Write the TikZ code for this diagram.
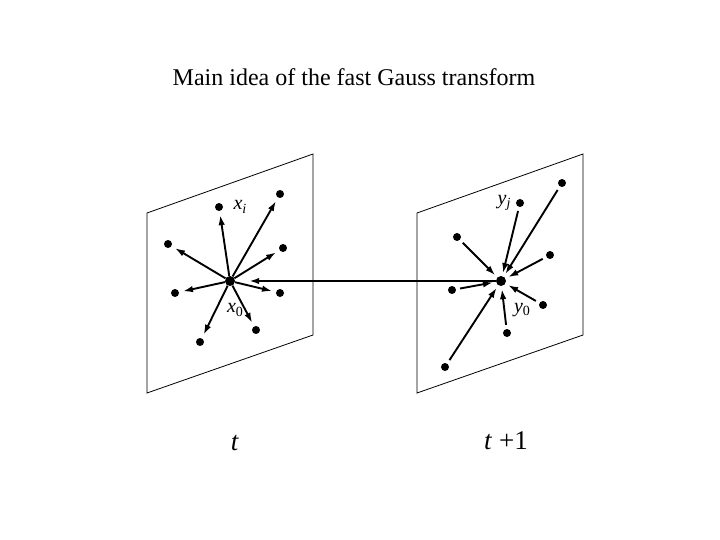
\documentclass[tikz,border=0pt]{standalone}
\usepackage{fontspec}
\setmainfont{Liberation Serif}
\usetikzlibrary{arrows.meta}
\newcommand{\vsub}[1]{\raisebox{-0.35ex}{\fontsize{14}{16}\selectfont #1}}
\begin{document}
\begin{tikzpicture}[x=1pt,y=-1pt,
  dot/.style={circle,fill=black,inner sep=0pt,minimum size=8pt},
  bigdot/.style={circle,fill=black,inner sep=0pt,minimum size=10pt},
  plane/.style={draw=black,line width=0.8pt},
  arr/.style={line width=1.9pt,-{Latex[length=10pt,width=6.5pt]}},
  lbl/.style={inner sep=0pt,font=\fontsize{20}{22}\selectfont\itshape}]
\useasboundingbox (0,0) rectangle (720,540);
\node[font=\fontsize{24}{28}\selectfont] (title) at (354,77) {Main idea of the fast Gauss transform};
% planes
\draw[plane] (147,213) -- (313,154) -- (313,335) -- (147,393) -- cycle;
\draw[plane] (417,213) -- (583,154) -- (583,335) -- (417,393) -- cycle;
% left dots
\node[bigdot] (x0) at (230,281) {};
\node[dot] (xi) at (219,207) {};
\node[dot] (a1) at (280,194) {};
\node[dot] (a2) at (168,244) {};
\node[dot] (a3) at (283,248) {};
\node[dot] (a4) at (175,293) {};
\node[dot] (a5) at (280,293) {};
\node[dot] (a6) at (256,330) {};
\node[dot] (a7) at (200,342) {};
\foreach \n in {xi,a1,a2,a3,a4,a5,a6,a7}
  \draw[arr,shorten >=4pt] (x0) -- (\n);
% right dots
\node[bigdot] (y0) at (501,281) {};
\node[dot] (yj) at (520,203) {};
\node[dot] (b1) at (562,183) {};
\node[dot] (b2) at (457,237) {};
\node[dot] (b3) at (550,255) {};
\node[dot] (b4) at (452,290) {};
\node[dot] (b5) at (543,305) {};
\node[dot] (b6) at (507,333) {};
\node[dot] (b7) at (445,367) {};
\foreach \n in {yj,b1,b2,b3,b4,b5,b6,b7}
  \draw[arr,shorten <=4pt,shorten >=3pt] (\n) -- (y0);
% link
\draw[arr,shorten >=14pt] (y0) -- (x0);
% labels
\node[lbl] (lxi) at (240,207) {x\vsub{i}};
\node[lbl] (lx0) at (235,310) {x\vsub{\upshape 0}};
\node[lbl] (lyj) at (504,203) {y\vsub{j}};
\node[lbl] (ly0) at (522,310) {y\vsub{\upshape 0}};
\node[font=\fontsize{27}{30}\selectfont] (t) at (235,443) {\textit{t}};
\node[font=\fontsize{27}{30}\selectfont] (t1) at (506,441) {\textit{t} +1};
\end{tikzpicture}
\end{document}
